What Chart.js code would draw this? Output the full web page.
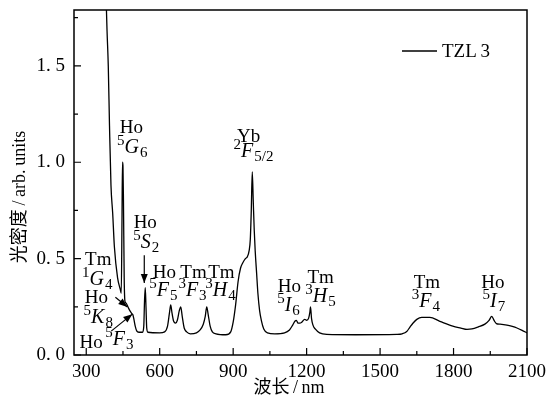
<!DOCTYPE html>
<html><head><meta charset="utf-8">
<script src="https://cdn.jsdelivr.net/npm/chart.js@4.4.1/dist/chart.umd.min.js"></script>
<style>html,body{margin:0;padding:0;background:#fff}#wrap{width:550px;height:404px}</style>
</head><body><div id="wrap"><canvas id="c"></canvas></div>
<script>
// ===== datos del espectro (TZL3) =====
const wavelength=[380,385,390,395,401,408,415,428,439,443,446,448,450,452,455,458,462,470,478,486,490,494,500,506,515,530,535,538,541,544,547,552,600,620,632,640,645,650,657,665,672,680,686,692,700,710,725,750,765,778,786,792,798,806,815,830,870,890,900,910,920,930,940,950,958,965,970,974,978,982,986,990,996,1001,1008,1015,1025,1040,1070,1110,1130,1143,1152,1158,1165,1172,1180,1192,1200,1208,1213,1216,1220,1226,1235,1253,1282,1400,1568,1590,1609,1622,1634,1650,1670,1703,1744,1797,1830,1855,1875,1900,1928,1945,1956,1966,1975,1990,2018,2040,2059,2080,2100];
const density=[1.90,1.68,1.50,1.19,0.88,0.735,0.56,0.40,0.34,0.32,0.70,1.00,0.98,0.80,0.40,0.28,0.27,0.25,0.23,0.215,0.21,0.19,0.15,0.125,0.118,0.118,0.15,0.28,0.35,0.25,0.14,0.118,0.115,0.12,0.15,0.22,0.26,0.22,0.175,0.165,0.18,0.23,0.25,0.20,0.14,0.12,0.11,0.115,0.13,0.16,0.20,0.25,0.21,0.15,0.12,0.11,0.105,0.12,0.17,0.26,0.38,0.45,0.48,0.50,0.51,0.54,0.60,0.75,0.95,0.80,0.65,0.54,0.42,0.32,0.23,0.18,0.135,0.115,0.11,0.115,0.13,0.155,0.175,0.18,0.165,0.165,0.17,0.185,0.18,0.19,0.22,0.25,0.19,0.155,0.135,0.115,0.107,0.105,0.107,0.11,0.122,0.145,0.165,0.185,0.195,0.195,0.175,0.15,0.14,0.133,0.135,0.145,0.16,0.18,0.20,0.178,0.163,0.16,0.155,0.148,0.14,0.128,0.115];

const xTicks=[300,600,900,1200,1500,1800,2100];
const xMinor=[450,750,1050,1350,1650,1950];
const yTicks=[0,0.5,1.0,1.5];
const yMinor=[0.25,0.75,1.25,1.75];
const yTickLabels=['0. 0','0. 5','1. 0','1. 5'];
const seriesName='TZL\u20093';

// etiquetas de transiciones: elemento + término espectral (pre=superíndice, L=letra itálica, sub=subíndice)
const labels=[
  {el:'Ho',ex:484,ey:1.150,pre:'5',L:'G',sub:'6',tx:488,ty:1.047},
  {el:'Yb',ex:963,ey:1.104,pre:'2',L:'F',sub:'5/2',tx:983,ty:1.026},
  {el:'Ho',ex:541,ey:0.658,pre:'5',L:'S',sub:'2',tx:545,ty:0.554},
  {el:'Ho',ex:619,ey:0.399,pre:'5',L:'F',sub:'5',tx:615,ty:0.306},
  {el:'Tm',ex:738,ey:0.399,pre:'3',L:'F',sub:'3',tx:734,ty:0.306},
  {el:'Tm',ex:852,ey:0.399,pre:'3',L:'H',sub:'4',tx:848,ty:0.306},
  {el:'Tm',ex:349,ey:0.466,pre:'1',L:'G',sub:'4',tx:345,ty:0.363},
  {el:'Ho',ex:341,ey:0.269,pre:'5',L:'K',sub:'8',tx:349,ty:0.166},
  {el:'Ho',ex:320,ey:0.036,pre:'5',L:'F',sub:'3',tx:435,ty:0.052},
  {el:'Ho',ex:1130,ey:0.326,pre:'5',L:'I',sub:'6',tx:1126,ty:0.228},
  {el:'Tm',ex:1257,ey:0.373,pre:'3',L:'H',sub:'5',tx:1257,ty:0.275},
  {el:'Tm',ex:1691,ey:0.347,pre:'3',L:'F',sub:'4',tx:1687,ty:0.249},
  {el:'Ho',ex:1961,ey:0.347,pre:'5',L:'I',sub:'7',tx:1965,ty:0.249}
];
const arrows=[
  {x1:537,y1:0.518,x2:537,y2:0.373},
  {x1:419,y1:0.300,x2:468,y2:0.249},
  {x1:402,y1:0.124,x2:488,y2:0.212}
];

const SERIF='"Liberation Serif","DejaVu Serif",serif';
const CJK='"Liberation Serif","Noto Sans CJK SC",serif';

function drawTerm(ctx,a,cx,by){
  const fs='15px '+SERIF, fi='italic 20px '+SERIF;
  ctx.font=fs;const w1=ctx.measureText(a.pre).width,w3=ctx.measureText(a.sub).width;
  ctx.font=fi;const w2=ctx.measureText(a.L).width;
  let x=cx-(w1+w2+w3+1)/2;
  ctx.textAlign='left';ctx.textBaseline='alphabetic';
  ctx.font=fs;ctx.fillText(a.pre,x,by-8);x+=w1;
  ctx.font=fi;ctx.fillText(a.L,x,by);x+=w2+1;
  ctx.font=fs;ctx.fillText(a.sub,x,by+4);
}
function drawArrow(ctx,x1,y1,x2,y2){
  ctx.beginPath();ctx.moveTo(x1,y1);ctx.lineTo(x2,y2);ctx.stroke();
  const ang=Math.atan2(y2-y1,x2-x1),L=9,W=3.5;
  ctx.beginPath();ctx.moveTo(x2,y2);
  ctx.lineTo(x2-L*Math.cos(ang)+W*Math.sin(ang),y2-L*Math.sin(ang)-W*Math.cos(ang));
  ctx.lineTo(x2-L*Math.cos(ang)-W*Math.sin(ang),y2-L*Math.sin(ang)+W*Math.cos(ang));
  ctx.closePath();ctx.fill();
}

const decor={id:'decor',
  afterDraw(ch){
    const {ctx,chartArea:a,scales:{x,y}}=ch;
    ctx.save();
    ctx.strokeStyle='#000';ctx.fillStyle='#000';
    // marco
    ctx.lineWidth=1.5;
    ctx.strokeRect(a.left,a.top,a.right-a.left,a.bottom-a.top);
    // ticks hacia adentro
    ctx.lineWidth=1.2;ctx.beginPath();
    xTicks.forEach(v=>{const p=x.getPixelForValue(v);ctx.moveTo(p,a.bottom);ctx.lineTo(p,a.bottom-7);});
    xMinor.forEach(v=>{const p=x.getPixelForValue(v);ctx.moveTo(p,a.bottom);ctx.lineTo(p,a.bottom-4);});
    yTicks.forEach(v=>{const p=y.getPixelForValue(v);ctx.moveTo(a.left,p);ctx.lineTo(a.left+7,p);});
    yMinor.forEach(v=>{const p=y.getPixelForValue(v);ctx.moveTo(a.left,p);ctx.lineTo(a.left+4,p);});
    ctx.stroke();
    // leyenda
    const lx=a.right-125,ly=a.top+41;
    ctx.lineWidth=1.3;ctx.beginPath();ctx.moveTo(lx,ly);ctx.lineTo(lx+35,ly);ctx.stroke();
    ctx.font='19px '+SERIF;ctx.textAlign='left';ctx.textBaseline='middle';
    ctx.fillText(seriesName,lx+40,ly+1);
    // etiquetas
    labels.forEach(l=>{
      ctx.font='19px '+SERIF;ctx.textAlign='center';ctx.textBaseline='alphabetic';
      ctx.fillText(l.el,x.getPixelForValue(l.ex),y.getPixelForValue(l.ey));
      drawTerm(ctx,l,x.getPixelForValue(l.tx),y.getPixelForValue(l.ty));
    });
    ctx.lineWidth=1.2;
    arrows.forEach(r=>drawArrow(ctx,x.getPixelForValue(r.x1),y.getPixelForValue(r.y1),x.getPixelForValue(r.x2),y.getPixelForValue(r.y2)));
    // títulos de ejes
    ctx.font='18px '+CJK;ctx.textAlign='center';ctx.textBaseline='middle';
    ctx.fillText('波长\u2009/\u2009nm',289,388);
    ctx.translate(20,197);ctx.rotate(-Math.PI/2);
    ctx.fillText('光密度\u2009/\u2009arb.\u2009units',0,0);
    ctx.restore();
  }
};

new Chart(document.getElementById('c'),{
  type:'line',
  data:{datasets:[{label:seriesName,data:wavelength.map((w,i)=>({x:w,y:density[i]})),
    borderColor:'#000',borderWidth:1.3,pointRadius:0,cubicInterpolationMode:'monotone',fill:false}]},
  options:{responsive:true,maintainAspectRatio:false,animation:false,devicePixelRatio:1,
    layout:{padding:{left:0,right:23,top:10,bottom:0}},
    plugins:{legend:{display:false},tooltip:{enabled:false}},
    scales:{
      x:{type:'linear',min:250,max:2100,
        afterBuildTicks:s=>{s.ticks=xTicks.map(v=>({value:v}));},
        afterFit:s=>{s.height=49;s.paddingLeft=0;s.paddingRight=0;},
        ticks:{color:'#000',font:{family:SERIF,size:19},padding:6,maxRotation:0,autoSkip:false,callback:v=>String(v)},
        grid:{display:false,drawTicks:false},border:{display:false}},
      y:{min:0,max:1.79,
        afterBuildTicks:s=>{s.ticks=yTicks.map(v=>({value:v}));},
        afterFit:s=>{s.width=74;s.paddingTop=0;s.paddingBottom=0;},
        ticks:{color:'#000',font:{family:SERIF,size:19},padding:9,callback:v=>yTickLabels[yTicks.indexOf(v)]},
        grid:{display:false,drawTicks:false},border:{display:false}}
    }
  },
  plugins:[decor]
});
</script></body></html>
